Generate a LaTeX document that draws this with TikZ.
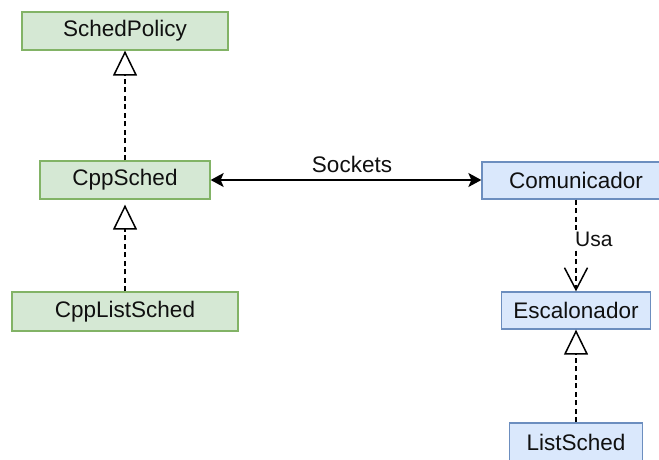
\documentclass[tikz,border=0pt]{standalone}
\usepackage{fontspec}
\setmainfont{Liberation Sans}
\usetikzlibrary{arrows.meta}

\definecolor{greenfill}{HTML}{D5E8D4}
\definecolor{greenline}{HTML}{82B366}
\definecolor{bluefill}{HTML}{DAE8FC}
\definecolor{blueline}{HTML}{6C8EBF}
\definecolor{inktext}{HTML}{101010}

\tikzset{
  umlbox/.style={draw, line width=1.3pt, rectangle, inner sep=0pt,
    text=inktext, font=\fontsize{22.5}{27}\selectfont},
  greenbox/.style={umlbox, fill=greenfill, draw=greenline},
  bluebox/.style={umlbox, fill=bluefill, draw=blueline},
  realizes/.style={line width=1.6pt, dash pattern=on 5pt off 3.5pt,
    -{Triangle[open, fill=white, length=25pt, width=24pt, line width=1.5pt]}},
  uses/.style={line width=1.6pt, dash pattern=on 5pt off 3.5pt,
    -{Straight Barb[length=22pt, width=23pt, line width=1.5pt]}},
  socketlink/.style={line width=1.6pt,
    {Stealth[length=13pt, width=14pt, inset=3pt]}-{Stealth[length=13pt, width=14pt, inset=3pt]}},
  edgelabel/.style={text=inktext, inner sep=0pt}
}

\begin{document}
\begin{tikzpicture}[x=1pt, y=-1pt]
  \clip (0,0) rectangle (659,459);
  \fill[white] (0,0) rectangle (659,459);

  % C++ side of the scheduler
  \node[greenbox, minimum width=206pt, minimum height=38pt] (SchedPolicy) at (125,31) {SchedPolicy};
  \node[greenbox, minimum width=170pt, minimum height=38pt] (CppSched) at (125,180) {CppSched};
  \node[greenbox, minimum width=226pt, minimum height=39pt] (CppListSched) at (125,311.5) {CppListSched};

  % communication and scheduling side
  \node[bluebox, minimum width=188pt, minimum height=37pt] (Comunicador) at (576,180.5) {Comunicador};
  \node[bluebox, minimum width=149pt, minimum height=37pt] (Escalonador) at (576,310.5) {Escalonador};
  \node[bluebox, minimum width=133pt, minimum height=38pt] (ListSched) at (576,442) {ListSched};

  % inheritance / realization
  \draw[realizes] (CppSched.north) -- (SchedPolicy.south);
  \draw[realizes, shorten >=5pt] (CppListSched.north) -- (CppSched.south);
  \draw[realizes] (ListSched.north) -- (Escalonador.south);

  % socket link between the two sides
  \draw[socketlink] (CppSched.east) -- (CppSched.east -| Comunicador.west);
  \node[edgelabel, anchor=base, font=\fontsize{22.5}{27}\selectfont] (sockets) at (352,172) {Sockets};

  % dependency
  \draw[uses] (Comunicador.south) -- (Comunicador.south |- Escalonador.north);
  \node[edgelabel, anchor=base west, fill=white, inner sep=1pt, font=\fontsize{21}{25}\selectfont] (usa) at (574,246) {Usa};
\end{tikzpicture}
\end{document}
